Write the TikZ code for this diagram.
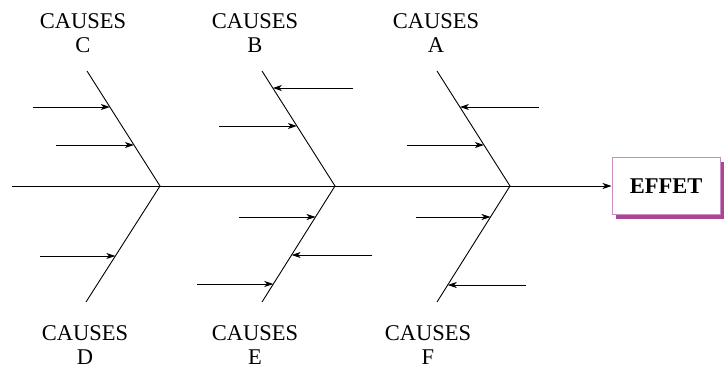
\documentclass[tikz,border=0pt]{standalone}
\usepackage{fontspec}
\setmainfont{Liberation Serif}
\usetikzlibrary{arrows.meta, calc, shadows}
\definecolor{effborder}{RGB}{205,140,195}
\definecolor{effshadow}{RGB}{170,70,150}

\begin{document}
\begin{tikzpicture}[x=1pt, y=-1pt, line width=0.9pt,
  >={Stealth[length=9pt, width=6pt, inset=2.5pt]},
  causetxt/.style={align=center, inner sep=0pt, font=\fontsize{22.5}{24}\selectfont},
  cause/.style={->}]

\useasboundingbox (0,0) rectangle (727,369);

% spine and effect box
\node [draw=effborder, fill=white, line width=1pt, minimum width=108pt, minimum height=57pt,
  inner sep=0pt, font=\fontsize{22.5}{24}\selectfont\bfseries,
  drop shadow={shadow xshift=3.5pt, shadow yshift=-4.5pt, fill=effshadow, opacity=1}]
  (effet) at (666,186) {EFFET};
\coordinate (tail) at (12,186);
\draw [->] (tail) -- (effet.west);

% bones
\coordinate (jC) at (160,186);
\coordinate (jB) at (335,186);
\coordinate (jA) at (510,186);
\coordinate (tC) at (87,71);
\coordinate (tB) at (262,71);
\coordinate (tA) at (437,71);
\coordinate (bD) at (86,302);
\coordinate (bE) at (262,302);
\coordinate (bF) at (437,302);
\draw (tC) -- (jC) -- (bD);
\draw (tB) -- (jB) -- (bE);
\draw (tA) -- (jA) -- (bF);

% causes C
\coordinate (c1) at ($(jC)!0.687!(tC)$);
\coordinate (c2) at ($(jC)!0.357!(tC)$);
\coordinate (sc1) at (33,107);
\coordinate (sc2) at (56,145);
\draw [cause] (sc1) -- (sc1 -| c1);
\draw [cause] (sc2) -- (sc2 -| c2);

% causes B
\coordinate (b1) at ($(jB)!0.852!(tB)$);
\coordinate (b2) at ($(jB)!0.522!(tB)$);
\coordinate (sb1) at (353,88);
\coordinate (sb2) at (219,126);
\draw [cause] (sb1) -- (sb1 -| b1);
\draw [cause] (sb2) -- (sb2 -| b2);

% causes A
\coordinate (a1) at ($(jA)!0.687!(tA)$);
\coordinate (a2) at ($(jA)!0.357!(tA)$);
\coordinate (sa1) at (539,107);
\coordinate (sa2) at (407,145);
\draw [cause] (sa1) -- (sa1 -| a1);
\draw [cause] (sa2) -- (sa2 -| a2);

% causes D
\coordinate (d1) at ($(jC)!0.603!(bD)$);
\coordinate (sd1) at (40,256);
\draw [cause] (sd1) -- (sd1 -| d1);

% causes E
\coordinate (e1) at ($(jB)!0.267!(bE)$);
\coordinate (e2) at ($(jB)!0.595!(bE)$);
\coordinate (e3) at ($(jB)!0.845!(bE)$);
\coordinate (se1) at (239,217);
\coordinate (se2) at (372,255);
\coordinate (se3) at (197,284);
\draw [cause] (se1) -- (se1 -| e1);
\draw [cause] (se2) -- (se2 -| e2);
\draw [cause] (se3) -- (se3 -| e3);

% causes F
\coordinate (f1) at ($(jA)!0.267!(bF)$);
\coordinate (f2) at ($(jA)!0.853!(bF)$);
\coordinate (sf1) at (416,217);
\coordinate (sf2) at (526,285);
\draw [cause] (sf1) -- (sf1 -| f1);
\draw [cause] (sf2) -- (sf2 -| f2);

% labels
\node [causetxt] (labC) at (83,33) {CAUSES\\C};
\node [causetxt] (labB) at (255,33) {CAUSES\\B};
\node [causetxt] (labA) at (436,33) {CAUSES\\A};
\node [causetxt] (labD) at (85,345) {CAUSES\\D};
\node [causetxt] (labE) at (255,345) {CAUSES\\E};
\node [causetxt] (labF) at (428,345) {CAUSES\\F};

\end{tikzpicture}
\end{document}
